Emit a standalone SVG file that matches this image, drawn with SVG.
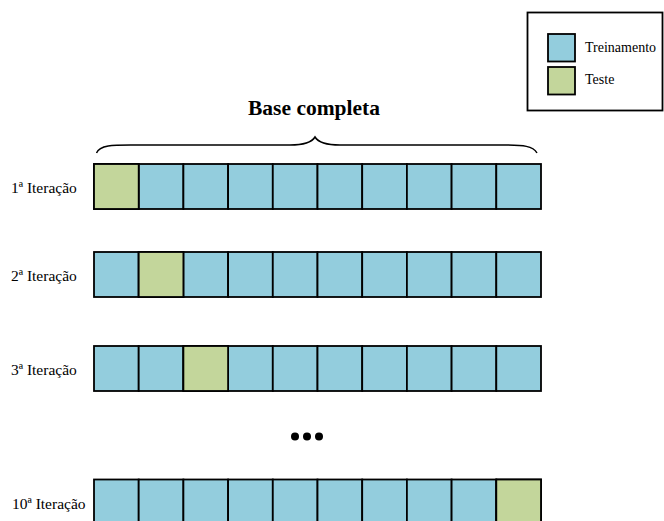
<svg xmlns="http://www.w3.org/2000/svg" width="664" height="521" viewBox="0 0 664 521">
<style>
text{font-family:"Liberation Serif","Times New Roman",serif;fill:#000}
.lbl{font-size:15.5px}
.leg{font-size:14px}
.ttl{font-size:21.5px;font-weight:bold}
.tr{fill:#93CDDD;stroke:#000;stroke-width:1.8}
.te{fill:#C3D69B;stroke:#000;stroke-width:1.8}
</style>
<defs>
<g id="row">
<rect class="tr" x="0" y="0" width="44.7" height="45"/>
<rect class="tr" x="44.7" y="0" width="44.7" height="45"/>
<rect class="tr" x="89.4" y="0" width="44.7" height="45"/>
<rect class="tr" x="134.1" y="0" width="44.7" height="45"/>
<rect class="tr" x="178.8" y="0" width="44.7" height="45"/>
<rect class="tr" x="223.5" y="0" width="44.7" height="45"/>
<rect class="tr" x="268.2" y="0" width="44.7" height="45"/>
<rect class="tr" x="312.9" y="0" width="44.7" height="45"/>
<rect class="tr" x="357.6" y="0" width="44.7" height="45"/>
<rect class="tr" x="402.3" y="0" width="44.7" height="45"/>
</g>
</defs>
<g id="legend">
<rect x="527.5" y="12.5" width="135" height="98" fill="#fff" stroke="#000" stroke-width="1.8"/>
<rect class="tr" x="548" y="34" width="27" height="27.5"/>
<rect class="te" x="548" y="67" width="27" height="27.5"/>
<text class="leg" x="585" y="52">Treinamento</text>
<text class="leg" x="585" y="83.5">Teste</text>
</g>
<g id="title">
<text class="ttl" x="314" y="115" text-anchor="middle">Base completa</text>
<path d="M96.5,153 C100,144 115,145 140,145 L290,145 C305,145 312,142 315,137 C318,142 325,145 340,145 L500,145 C525,145 533,146 537,153" fill="none" stroke="#000" stroke-width="1.5"/>
</g>
<g id="iter1">
<text class="lbl" x="11" y="193">1ª Iteração</text>
<use href="#row" x="94" y="164"/>
<rect class="te" x="94" y="164" width="44.7" height="45"/>
</g>
<g id="iter2">
<text class="lbl" x="11" y="281">2ª Iteração</text>
<use href="#row" x="94" y="252"/>
<rect class="te" x="138.7" y="252" width="44.7" height="45"/>
</g>
<g id="iter3">
<text class="lbl" x="11" y="375">3ª Iteração</text>
<use href="#row" x="94" y="346"/>
<rect class="te" x="183.4" y="346" width="44.7" height="45"/>
</g>
<g id="dots">
<circle cx="295" cy="436.5" r="4"/>
<circle cx="307" cy="436.5" r="4"/>
<circle cx="319" cy="436.5" r="4"/>
</g>
<g id="iter10">
<text class="lbl" x="12" y="509">10ª Iteração</text>
<use href="#row" x="94" y="479.5"/>
<rect class="te" x="496.3" y="479.5" width="44.7" height="45"/>
</g>
<g id="connectors"></g>
</svg>
